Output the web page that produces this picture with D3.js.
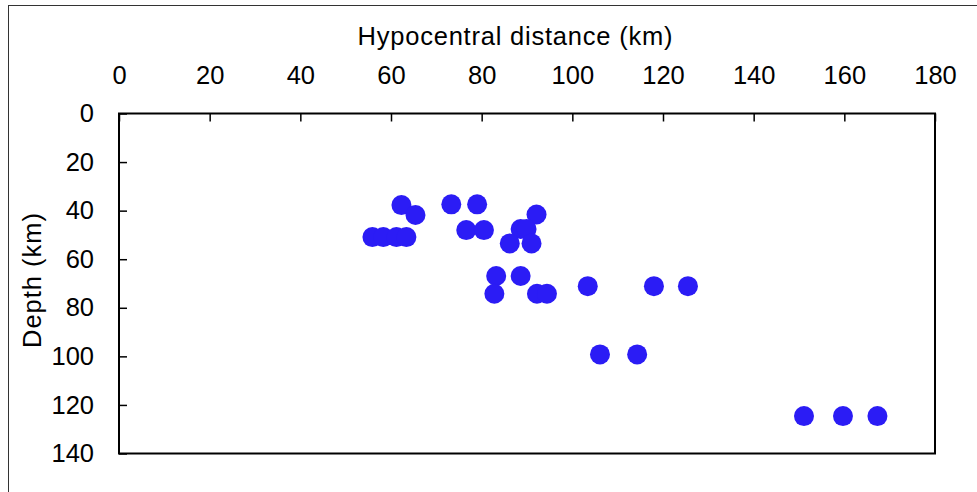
<!DOCTYPE html>
<html>
<head>
<meta charset="utf-8">
<script src="https://d3js.org/d3.v7.min.js"></script>
<style>
  body { margin: 0; background: #fff; }
  svg { display: block; font-family: "Liberation Sans", Arial, sans-serif; }
  .axis text { font-size: 25.5px; fill: #000; }
  .axis line { stroke: #000; stroke-width: 1.5; }
</style>
</head>
<body>
<svg width="977" height="492"></svg>
<script>
// hypocentral distance (km) and depth (km) of each event
const distance = [62.3, 65.4, 55.9, 58.3, 61.2, 63.4, 73.3, 79.0, 76.6, 80.5,
                  92.1, 88.6, 89.9, 86.2, 91.0, 83.2, 88.6, 82.8, 92.2, 94.4,
                  103.4, 118.0, 125.5, 106.1, 114.3, 151.1, 159.7, 167.3];
const depth    = [37.7, 41.8, 50.9, 50.9, 50.9, 50.9, 37.4, 37.4, 48.0, 48.0,
                  41.6, 47.6, 47.6, 53.5, 53.5, 66.9, 66.9, 74.2, 74.2, 74.2,
                  71.1, 71.1, 71.1, 99.2, 99.2, 124.6, 124.6, 124.6];
const xTicks = [0, 20, 40, 60, 80, 100, 120, 140, 160, 180];
const yTicks = [0, 20, 40, 60, 80, 100, 120, 140];

const svg = d3.select("svg");
const plotL = 119, plotT = 113.5, plotR = 935, plotB = 453.5;

// outer chart frame
svg.append("rect")
  .attr("x", 8.5).attr("y", 5.5)
  .attr("width", 980).attr("height", 500)
  .attr("fill", "none").attr("stroke", "#333").attr("stroke-width", 1);

const x = d3.scaleLinear().domain([0, 180]).range([plotL, plotR]);
const y = d3.scaleLinear().domain([0, 140]).range([plotT, plotB]);

svg.append("g").attr("class", "axis")
  .attr("transform", "translate(0," + plotT + ")")
  .call(d3.axisTop(x).tickValues(xTicks).tickSizeInner(-8).tickSizeOuter(0).tickPadding(30))
  .call(g => g.select(".domain").remove())
  .call(g => g.selectAll("text").attr("font-family", null).attr("font-size", null));

svg.append("g").attr("class", "axis")
  .attr("transform", "translate(" + plotL + ",0)")
  .call(d3.axisLeft(y).tickValues(yTicks).tickSizeInner(-8).tickSizeOuter(0).tickPadding(25))
  .call(g => g.select(".domain").remove())
  .call(g => g.selectAll("text").attr("font-family", null).attr("font-size", null));

// plot area border
svg.append("rect")
  .attr("x", plotL).attr("y", plotT)
  .attr("width", plotR - plotL).attr("height", plotB - plotT)
  .attr("fill", "none").attr("stroke", "#000").attr("stroke-width", 2);

svg.selectAll("circle")
  .data(distance)
  .enter()
  .append("circle")
  .attr("cx", d => x(d))
  .attr("cy", (d, i) => y(depth[i]))
  .attr("r", 10)
  .attr("fill", "#2b1cf5");

svg.append("text")
  .attr("x", 515).attr("y", 45)
  .attr("text-anchor", "middle")
  .attr("font-size", 25.5)
  .attr("textLength", 315)
  .attr("lengthAdjust", "spacing")
  .text("Hypocentral distance (km)");

svg.append("text")
  .attr("transform", "translate(41,280.5) rotate(-90)")
  .attr("text-anchor", "middle")
  .attr("font-size", 25.5)
  .attr("textLength", 135)
  .attr("lengthAdjust", "spacing")
  .text("Depth (km)");
</script>
</body>
</html>
